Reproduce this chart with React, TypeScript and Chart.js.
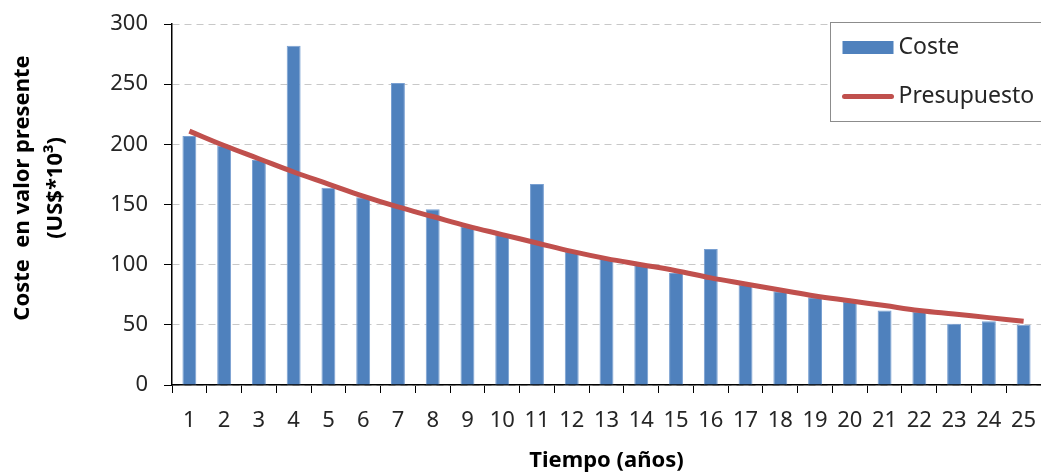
import React, { useEffect, useRef } from 'react';
import { Chart, registerables } from 'chart.js';

Chart.register(...registerables);

const years = ['1','2','3','4','5','6','7','8','9','10','11','12','13','14','15','16','17','18','19','20','21','22','23','24','25'];
const costValues = [207, 199, 187, 282, 164, 156, 251, 146, 132, 125, 167, 111, 105, 100, 93, 113, 83, 78, 73, 69, 62, 61, 51, 53, 50];
const budgetValues = [211, 199, 188, 177, 167, 157, 148, 140, 132, 125, 118, 111, 105, 100, 95, 89, 84, 79, 74, 70, 66, 62, 59, 56, 53];
const yTickValues = [0, 50, 100, 150, 200, 250, 300];

const seriesNames = ['Coste', 'Presupuesto'];
const axisTitles = { x: 'Tiempo (años)', y: ['Coste  en valor presente', '(US$*10³)'] };

const FONT = '"Noto Sans", "DejaVu Sans", sans-serif';
const BAR_COLOR = '#4F81BD';
const LINE_COLOR = '#C0504D';
const TEXT_COLOR = '#262626';

const boxLegend = {
  id: 'boxLegend',
  afterDraw(chart: any) {
    const { ctx, chartArea } = chart;
    const x = chartArea.left + 658.5;
    const y = chartArea.top - 1.5;
    const w = 260;
    const h = 99;
    ctx.save();
    ctx.fillStyle = '#ffffff';
    ctx.fillRect(x, y, w, h);
    ctx.strokeStyle = '#8c8c8c';
    ctx.lineWidth = 1;
    ctx.strokeRect(x, y, w, h);
    ctx.font = `23px ${FONT}`;
    ctx.textBaseline = 'middle';
    const ds = chart.data.datasets;
    const row1 = y + 25;
    const row2 = y + 74;
    ctx.fillStyle = BAR_COLOR;
    ctx.fillRect(x + 12, row1 - 6.5, 51, 13);
    ctx.fillStyle = TEXT_COLOR;
    ctx.fillText(ds[0].label, x + 68, row1);
    ctx.strokeStyle = LINE_COLOR;
    ctx.lineWidth = 5;
    ctx.lineCap = 'round';
    ctx.beginPath();
    ctx.moveTo(x + 14, row2);
    ctx.lineTo(x + 61, row2);
    ctx.stroke();
    ctx.fillStyle = TEXT_COLOR;
    ctx.fillText(ds[1].label, x + 68, row2);
    ctx.restore();
  },
};

const yTitlePlugin = {
  id: 'yTitlePlugin',
  afterDraw(chart: any) {
    const { ctx, chartArea } = chart;
    const lines = axisTitles.y;
    const cy = chartArea.top + 164;
    ctx.save();
    ctx.font = `bold 22px ${FONT}`;
    ctx.fillStyle = '#000000';
    ctx.textAlign = 'center';
    ctx.textBaseline = 'middle';
    lines.forEach((line: string, i: number) => {
      ctx.save();
      ctx.translate(23 + i * 33, cy);
      ctx.rotate(-Math.PI / 2);
      ctx.fillText(line, 0, 0);
      ctx.restore();
    });
    ctx.restore();
  },
};

export default function App() {
  const canvasRef = useRef<HTMLCanvasElement | null>(null);

  useEffect(() => {
    if (!canvasRef.current) return;
    const chart = new Chart(canvasRef.current, {
      type: 'bar',
      data: {
        labels: years,
        datasets: [
          {
            type: 'bar',
            label: seriesNames[0],
            data: costValues,
            backgroundColor: BAR_COLOR,
            borderColor: '#79A0D2',
            borderWidth: 1,
            barPercentage: 0.4,
            categoryPercentage: 1,
            order: 2,
          },
          {
            type: 'line',
            label: seriesNames[1],
            data: budgetValues,
            borderColor: LINE_COLOR,
            borderWidth: 5,
            pointRadius: 0,
            tension: 0.4,
            fill: false,
            order: 1,
          },
        ] as any,
      },
      options: {
        animation: false,
        responsive: false,
        maintainAspectRatio: false,
        layout: { padding: { top: 24, right: 0, bottom: 0, left: 0 } },
        plugins: {
          legend: { display: false },
          tooltip: { enabled: false },
        },
        scales: {
          x: {
            grid: {
              display: true,
              drawOnChartArea: false,
              drawTicks: true,
              tickLength: 8,
              tickColor: '#000000',
              offset: true,
            },
            border: { display: true, color: '#000000', width: 1.5 },
            ticks: {
              color: TEXT_COLOR,
              font: { family: FONT, size: 22 },
              padding: 15,
              maxRotation: 0,
              autoSkip: false,
            },
            title: {
              display: true,
              text: axisTitles.x,
              color: '#000000',
              font: { family: FONT, size: 22, weight: 'bold' },
              padding: { top: 0, bottom: 0 },
            },
            afterFit: (scale: any) => {
              scale.height = 89;
              scale.paddingLeft = 0;
              scale.paddingRight = 0;
            },
          },
          y: {
            min: 0,
            max: 300,
            afterBuildTicks: (scale: any) => {
              scale.ticks = yTickValues.map((v) => ({ value: v }));
            },
            grid: {
              color: '#C8C8C8',
              lineWidth: 1,
              drawTicks: true,
              tickLength: 8,
              tickColor: '#000000',
            },
            border: { display: true, color: '#000000', width: 1.5, dash: [7, 5] },
            ticks: {
              color: TEXT_COLOR,
              font: { family: FONT, size: 22 },
              padding: 16,
            },
            title: { display: false },
            afterFit: (scale: any) => {
              scale.width = 172;
              scale.paddingTop = 0;
              scale.paddingBottom = 0;
            },
          },
        },
      } as any,
      plugins: [boxLegend, yTitlePlugin],
    });
    return () => chart.destroy();
  }, []);

  return (
    <div style={{ position: 'absolute', left: 0, top: 0, width: 1041, height: 474 }}>
      <canvas ref={canvasRef} width={1041} height={474} />
    </div>
  );
}
